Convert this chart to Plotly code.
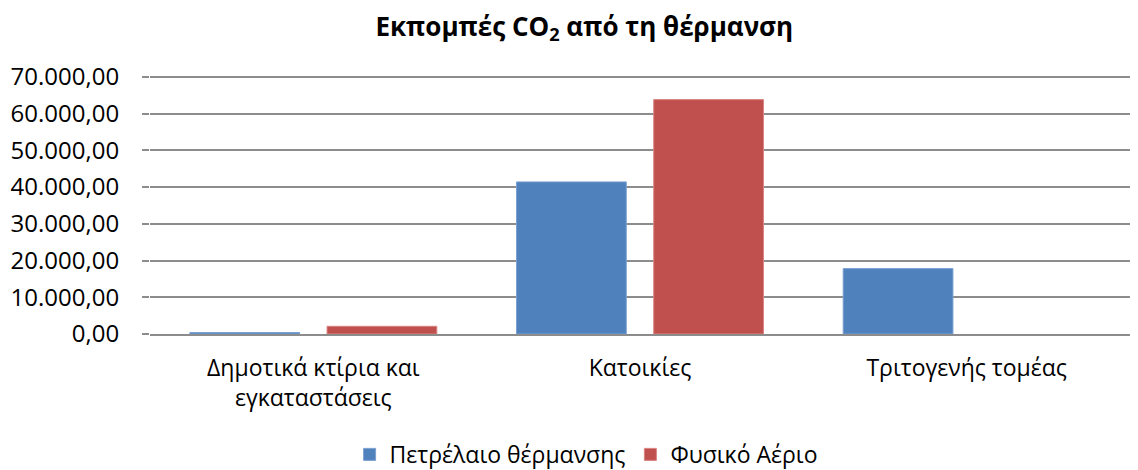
import plotly.graph_objects as go

categories = ["Δημοτικά κτίρια και<br>εγκαταστάσεις", "Κατοικίες", "Τριτογενής τομέας"]
oil_values = [400, 41400, 17800]
gas_values = [2100, 63800, 0]
series_names = ["Πετρέλαιο θέρμανσης", "Φυσικό Αέριο"]
y_ticks = [0, 10000, 20000, 30000, 40000, 50000, 60000, 70000]


def border_widths(values):
    return [1 if v > 0 else 0 for v in values]


fig = go.Figure()
fig.add_trace(go.Bar(x=categories, y=oil_values, name=series_names[0],
                     marker=dict(color="#4F81BD",
                                 line=dict(color="#7BA0D0", width=border_widths(oil_values)))))
fig.add_trace(go.Bar(x=categories, y=gas_values, name=series_names[1],
                     marker=dict(color="#C0504D",
                                 line=dict(color="#D98481", width=border_widths(gas_values)))))

font_family = "Open Sans, DejaVu Sans, sans-serif"
fig.update_layout(
    width=1130, height=462,
    margin=dict(l=142, r=8, t=67, b=136, autoexpand=False),
    paper_bgcolor="white", plot_bgcolor="white",
    separators=",.",
    title=dict(text="<b>Εκπομπές CO<sub>2</sub> από τη θέρμανση</b>", x=0.51, xanchor="center",
               y=0.96, yanchor="middle", font=dict(family=font_family, size=26, color="black")),
    barmode="group", bargap=0.16, bargroupgap=0.2,
    showlegend=True,
    legend=dict(orientation="h", x=0.445, xanchor="center", y=-0.465, yanchor="middle",
                font=dict(family=font_family, size=23, color="black"), itemwidth=30,
                traceorder="normal"),
    font=dict(family=font_family, size=23, color="black"),
)
fig.update_yaxes(range=[0, 70500], tickvals=y_ticks, tickformat=",.2f",
                 showgrid=True, gridcolor="#8C8C8C", gridwidth=1.5,
                 zeroline=False, showline=False, automargin=False,
                 ticks="outside", ticklen=7, tickcolor="#8C8C8C", tickwidth=1.5,
                 ticklabelstandoff=18,
                 tickfont=dict(family=font_family, size=24, color="black"))
fig.update_xaxes(showline=True, linecolor="#8C8C8C", linewidth=2, ticks="",
                 ticklabelstandoff=12, automargin=False,
                 tickfont=dict(family=font_family, size=23, color="black"))

fig.write_html("out.html")
